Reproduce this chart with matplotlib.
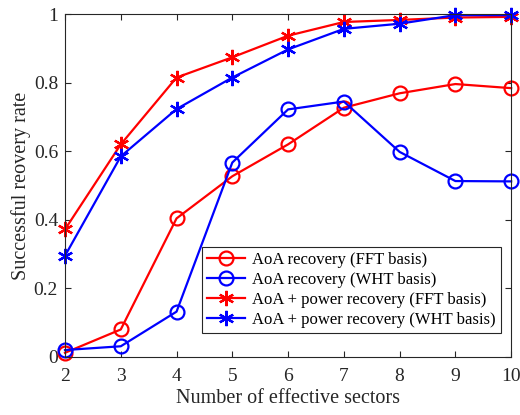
import matplotlib.pyplot as plt

plt.rcParams['font.family'] = ['Liberation Serif', 'DejaVu Serif']

sectors = [2, 3, 4, 5, 6, 7, 8, 9, 10]
aoa_fft = [0.012, 0.08, 0.404, 0.527, 0.62, 0.727, 0.769, 0.796, 0.784]
aoa_wht = [0.02, 0.031, 0.132, 0.567, 0.722, 0.745, 0.598, 0.513, 0.512]
pow_fft = [0.372, 0.62, 0.815, 0.874, 0.937, 0.977, 0.983, 0.99, 0.992]
pow_wht = [0.295, 0.585, 0.723, 0.815, 0.897, 0.957, 0.972, 0.997, 0.997]

fig = plt.figure(figsize=(5.2, 4.15), dpi=100)
ax = fig.add_axes([0.125, 0.14, 0.858, 0.826])

ax.plot(sectors, aoa_fft, color='red', lw=1.6, marker='o', ms=10, mfc='none', mew=1.6,
        label='AoA recovery (FFT basis)', clip_on=False)
ax.plot(sectors, aoa_wht, color='blue', lw=1.6, marker='o', ms=10, mfc='none', mew=1.6,
        label='AoA recovery (WHT basis)', clip_on=False)
ax.plot(sectors, pow_fft, color='red', lw=1.6, marker=(6, 2, 0), ms=11, mew=1.6,
        label='AoA + power recovery (FFT basis)', clip_on=False)
ax.plot(sectors, pow_wht, color='blue', lw=1.6, marker=(6, 2, 0), ms=11, mew=1.6,
        label='AoA + power recovery (WHT basis)', clip_on=False)

ax.set_xlim(2, 10)
ax.set_ylim(0, 1)
ax.set_xticks(sectors)
ax.set_yticks([0, 0.2, 0.4, 0.6, 0.8, 1])
ax.set_yticklabels(['0', '0.2', '0.4', '0.6', '0.8', '1'])
ax.tick_params(direction='in', top=True, right=True, labelsize=14, colors='0.15', length=4)
ax.tick_params(axis='x', pad=8)
ax.tick_params(axis='y', pad=5)
for s in ax.spines.values():
    s.set_color('0.15')
ax.set_xlabel('Number of effective sectors', fontsize=14.5, color='0.15', labelpad=3)
ax.set_ylabel('Successful reovery rate', fontsize=14.5, color='0.15', labelpad=2)

leg = ax.legend(loc='lower right', fontsize=12, fancybox=False, edgecolor='0.15',
                framealpha=1, handlelength=2.3, borderpad=0.3, labelspacing=0.25,
                handletextpad=0.4, bbox_to_anchor=(0.995, 0.045))
leg.get_frame().set_linewidth(0.8)

fig.savefig('out.png', dpi=100)
